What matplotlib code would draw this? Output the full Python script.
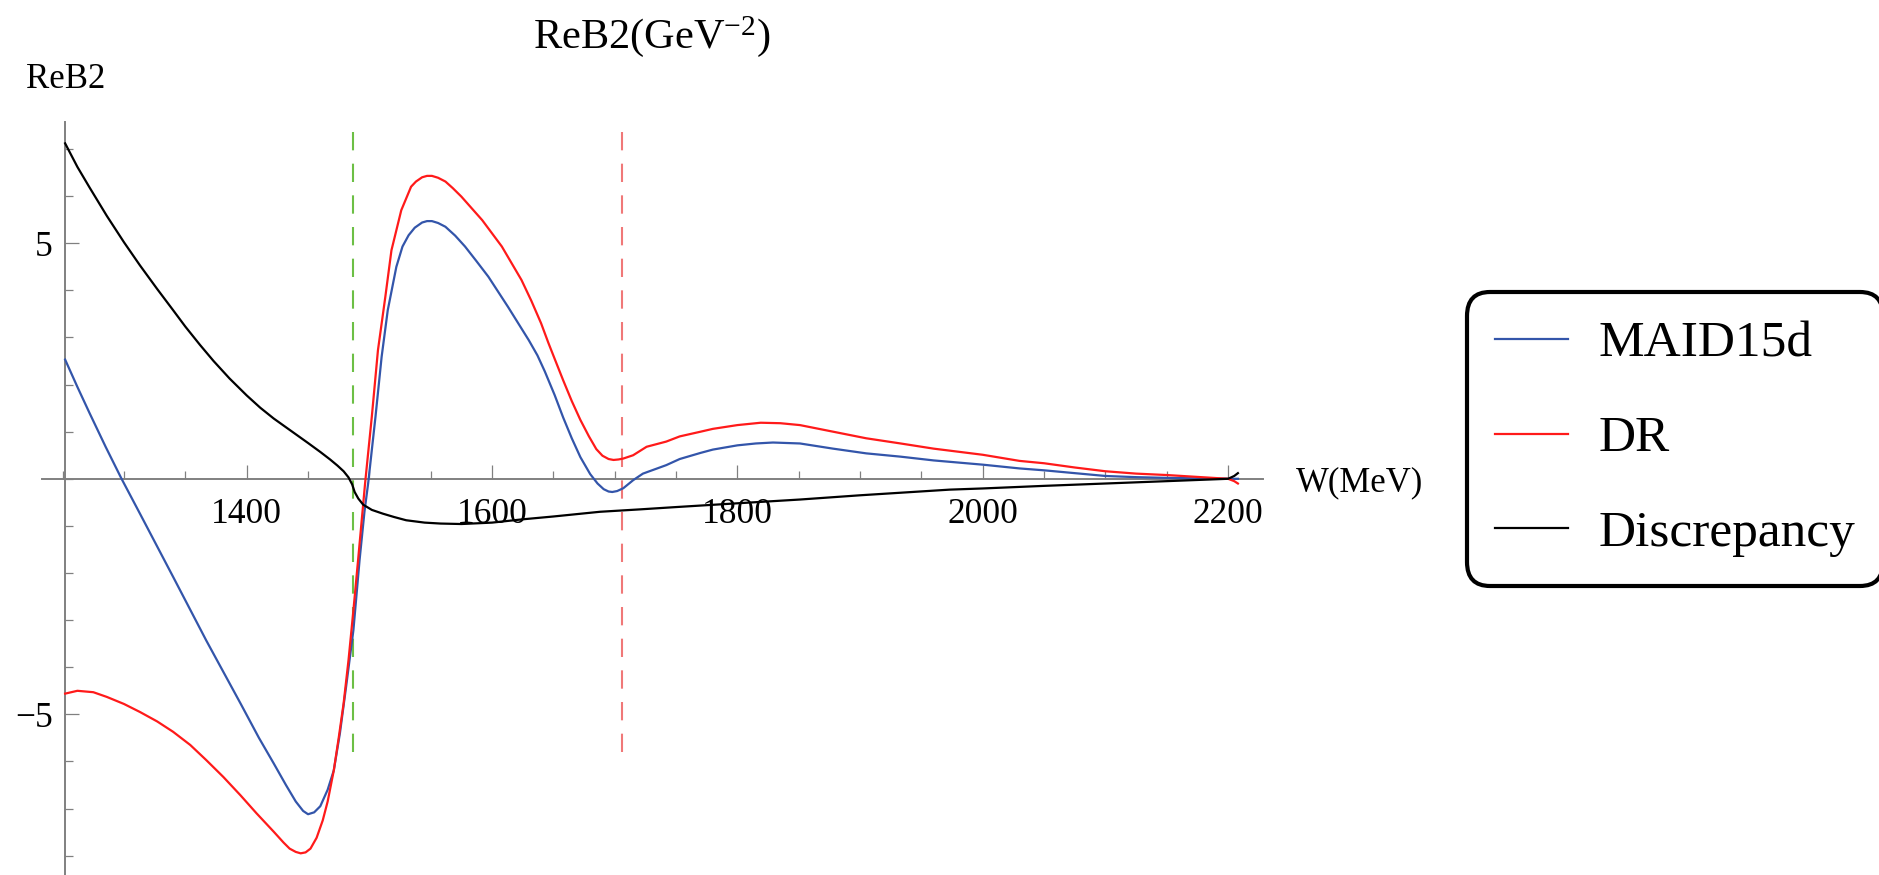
import matplotlib
matplotlib.use('Agg')
import matplotlib.pyplot as plt
from matplotlib.ticker import FixedLocator, MultipleLocator

plt.rcParams['font.family'] = ['Liberation Serif', 'DejaVu Serif']
plt.rcParams['mathtext.fontset'] = 'custom'
plt.rcParams['mathtext.rm'] = 'Liberation Serif'
plt.rcParams['mathtext.it'] = 'Liberation Serif:italic'
plt.rcParams['axes.unicode_minus'] = True
plt.rcParams['lines.scale_dashes'] = False

# ---- data ----
W_maid = [1252, 1262, 1272, 1285, 1298, 1313, 1340, 1367, 1395, 1410, 1422, 1432,
          1440, 1446, 1450, 1455, 1460, 1466, 1471, 1476, 1481, 1487, 1492, 1496,
          1499, 1505, 1510, 1515, 1522, 1527, 1532, 1537, 1543, 1547, 1551, 1556,
          1562, 1570, 1578, 1587, 1597, 1613, 1630, 1637, 1643, 1651, 1658, 1665,
          1672, 1680, 1686, 1691, 1695, 1698, 1702, 1707, 1715, 1723, 1742, 1753,
          1770, 1780, 1800, 1815, 1829, 1851, 1878, 1905, 1933, 1960, 2000, 2030,
          2050, 2075, 2100, 2125, 2150, 2175, 2200, 2208]
maid15d = [2.53, 1.95, 1.39, 0.68, 0.00, -0.74, -2.08, -3.43, -4.77, -5.50, -6.04, -6.50,
           -6.85, -7.05, -7.12, -7.08, -6.95, -6.60, -6.19, -5.40, -4.42, -3.21, -1.73, -0.70,
           -0.10, 1.32, 2.59, 3.58, 4.50, 4.93, 5.17, 5.33, 5.44, 5.47, 5.47, 5.43,
           5.35, 5.16, 4.93, 4.63, 4.29, 3.65, 2.94, 2.62, 2.28, 1.78, 1.30, 0.86,
           0.46, 0.10, -0.10, -0.22, -0.27, -0.28, -0.26, -0.20, -0.03, 0.11, 0.29, 0.42,
           0.55, 0.62, 0.71, 0.75, 0.77, 0.75, 0.64, 0.54, 0.47, 0.39, 0.30, 0.22,
           0.18, 0.12, 0.06, 0.035, 0.02, 0.01, 0.00, 0.00]

W_dr = [1252, 1262, 1275, 1286, 1300, 1313, 1327, 1340, 1354, 1367, 1381, 1395,
        1408, 1422, 1430, 1435, 1440, 1444, 1448, 1452, 1457, 1462, 1466, 1471,
        1475, 1479, 1483, 1487, 1491, 1496.5, 1502, 1507, 1513, 1518, 1526, 1534,
        1538, 1543, 1547, 1551, 1556, 1562, 1568, 1575, 1592, 1608, 1624, 1632,
        1640, 1646, 1651, 1658, 1665, 1672, 1679, 1685, 1690, 1695, 1699, 1703,
        1707, 1715, 1726, 1742, 1753, 1770, 1780, 1800, 1819, 1835, 1851, 1878,
        1905, 1933, 1960, 2000, 2030, 2050, 2075, 2100, 2125, 2150, 2175, 2200,
        2205, 2208]
dr = [-4.56, -4.50, -4.53, -4.63, -4.78, -4.95, -5.15, -5.37, -5.65, -5.97, -6.33, -6.72,
      -7.10, -7.49, -7.72, -7.85, -7.92, -7.95, -7.93, -7.85, -7.62, -7.25, -6.85, -6.19,
      -5.50, -4.77, -3.85, -2.79, -1.67, -0.10, 1.32, 2.73, 3.86, 4.85, 5.70, 6.20,
      6.31, 6.40, 6.43, 6.43, 6.39, 6.31, 6.17, 5.99, 5.49, 4.93, 4.22, 3.78,
      3.30, 2.88, 2.55, 2.09, 1.65, 1.25, 0.90, 0.63, 0.49, 0.42, 0.40, 0.41,
      0.43, 0.50, 0.68, 0.79, 0.90, 1.00, 1.06, 1.14, 1.19, 1.18, 1.14, 1.00,
      0.86, 0.75, 0.64, 0.51, 0.38, 0.33, 0.24, 0.16, 0.11, 0.08, 0.04, 0.00,
      -0.05, -0.10]

W_disc = [1252, 1262, 1272, 1286, 1300, 1313, 1327, 1340, 1350, 1362, 1373, 1386,
          1400, 1411, 1422, 1436, 1450, 1460, 1468, 1474, 1479, 1483, 1486, 1488,
          1491, 1495, 1502, 1511, 1520, 1530, 1545, 1558, 1575, 1600, 1625, 1650,
          1688, 1720, 1750, 1800, 1851, 1900, 1973, 2000, 2050, 2100, 2150, 2200,
          2205, 2208]
discrepancy = [7.12, 6.62, 6.18, 5.58, 5.02, 4.53, 4.03, 3.58, 3.23, 2.84, 2.50, 2.13,
               1.77, 1.51, 1.28, 1.02, 0.76, 0.57, 0.41, 0.28, 0.16, 0.03, -0.12, -0.28,
               -0.42, -0.55, -0.66, -0.74, -0.81, -0.88, -0.93, -0.95, -0.96, -0.93, -0.86, -0.80,
               -0.70, -0.65, -0.60, -0.52, -0.44, -0.35, -0.23, -0.205, -0.15, -0.10, -0.05, 0.00,
               0.06, 0.12]

thresholds = [1486.4, 1706.0]
threshold_colors = ['#6cbf45', '#f07878']
threshold_span = [-6.03, 7.37]

x_major = [1400, 1600, 1800, 2000, 2200]
y_major = [-5, 5]

# ---- figure ----
FW, FH = 1879, 875
fig = plt.figure(figsize=(FW / 100, FH / 100), dpi=100)
ax = fig.add_axes([41.7 / FW, 0, (1263.3 - 41.7) / FW, (FH - 121.7) / FH])
ax.set_xlim(1232.9, 2228.7)
ax.set_ylim(-8.41, 7.58)

axis_gray = '#808080'
for s in ['top', 'right']:
    ax.spines[s].set_visible(False)
ax.spines['left'].set_position(('data', 1252))
ax.spines['bottom'].set_position(('data', 0))
for s in ['left', 'bottom']:
    ax.spines[s].set_color(axis_gray)
    ax.spines[s].set_linewidth(1.4)

ax.xaxis.set_major_locator(FixedLocator(x_major))
ax.xaxis.set_minor_locator(MultipleLocator(50))
ax.yaxis.set_major_locator(FixedLocator(y_major))
ax.yaxis.set_minor_locator(MultipleLocator(1))
ax.tick_params(which='both', direction='in', color=axis_gray, width=0.9)
ax.tick_params(which='major', length=10)
ax.tick_params(which='minor', length=5.5)
ax.tick_params(axis='x', which='major', labelsize=25.5, pad=14)
ax.tick_params(axis='y', which='major', labelsize=25.5, pad=9)
ax.set_xticklabels([str(v) for v in x_major])
ax.set_yticklabels(['\u22125', '5'])

blue = '#3355aa'
red = '#ff1a1a'
for xv, c in zip(thresholds, threshold_colors):
    ax.plot([xv, xv], [threshold_span[1], threshold_span[0]], color=c, lw=1.5,
            dashes=(13.2, 9.6), zorder=2)

ax.plot(W_maid, maid15d, color=blue, lw=1.6, label='MAID15d', zorder=3)
ax.plot(W_dr, dr, color=red, lw=1.6, label='DR', zorder=3)
ax.plot(W_disc, discrepancy, color='black', lw=1.6, label='Discrepancy', zorder=3)

# texts
fig.text(533 / FW, 1 - 48 / FH, r'ReB2(GeV$^{\mathregular{-2}}$)', fontsize=30.5,
         ha='left', va='baseline')
fig.text(26 / FW, 1 - 88 / FH, 'ReB2', fontsize=25, ha='left', va='baseline')
fig.text(1296 / FW, 1 - 491 / FH, 'W(MeV)', fontsize=25, ha='left', va='baseline')

leg = fig.legend(loc='center', bbox_to_anchor=(1675 / FW, 1 - 439 / FH),
                 fontsize=37, frameon=True, fancybox=True, handlelength=1.42,
                 handletextpad=0.59, borderpad=0.55, labelspacing=0.93,
                 borderaxespad=0)
fr = leg.get_frame()
fr.set_edgecolor('black')
fr.set_linewidth(3.0)
fr.set_alpha(1)
fr.set_boxstyle('round,pad=0,rounding_size=0.45')
for ln in leg.get_lines():
    ln.set_linewidth(1.6)

fig.savefig('out.png', dpi=100)
